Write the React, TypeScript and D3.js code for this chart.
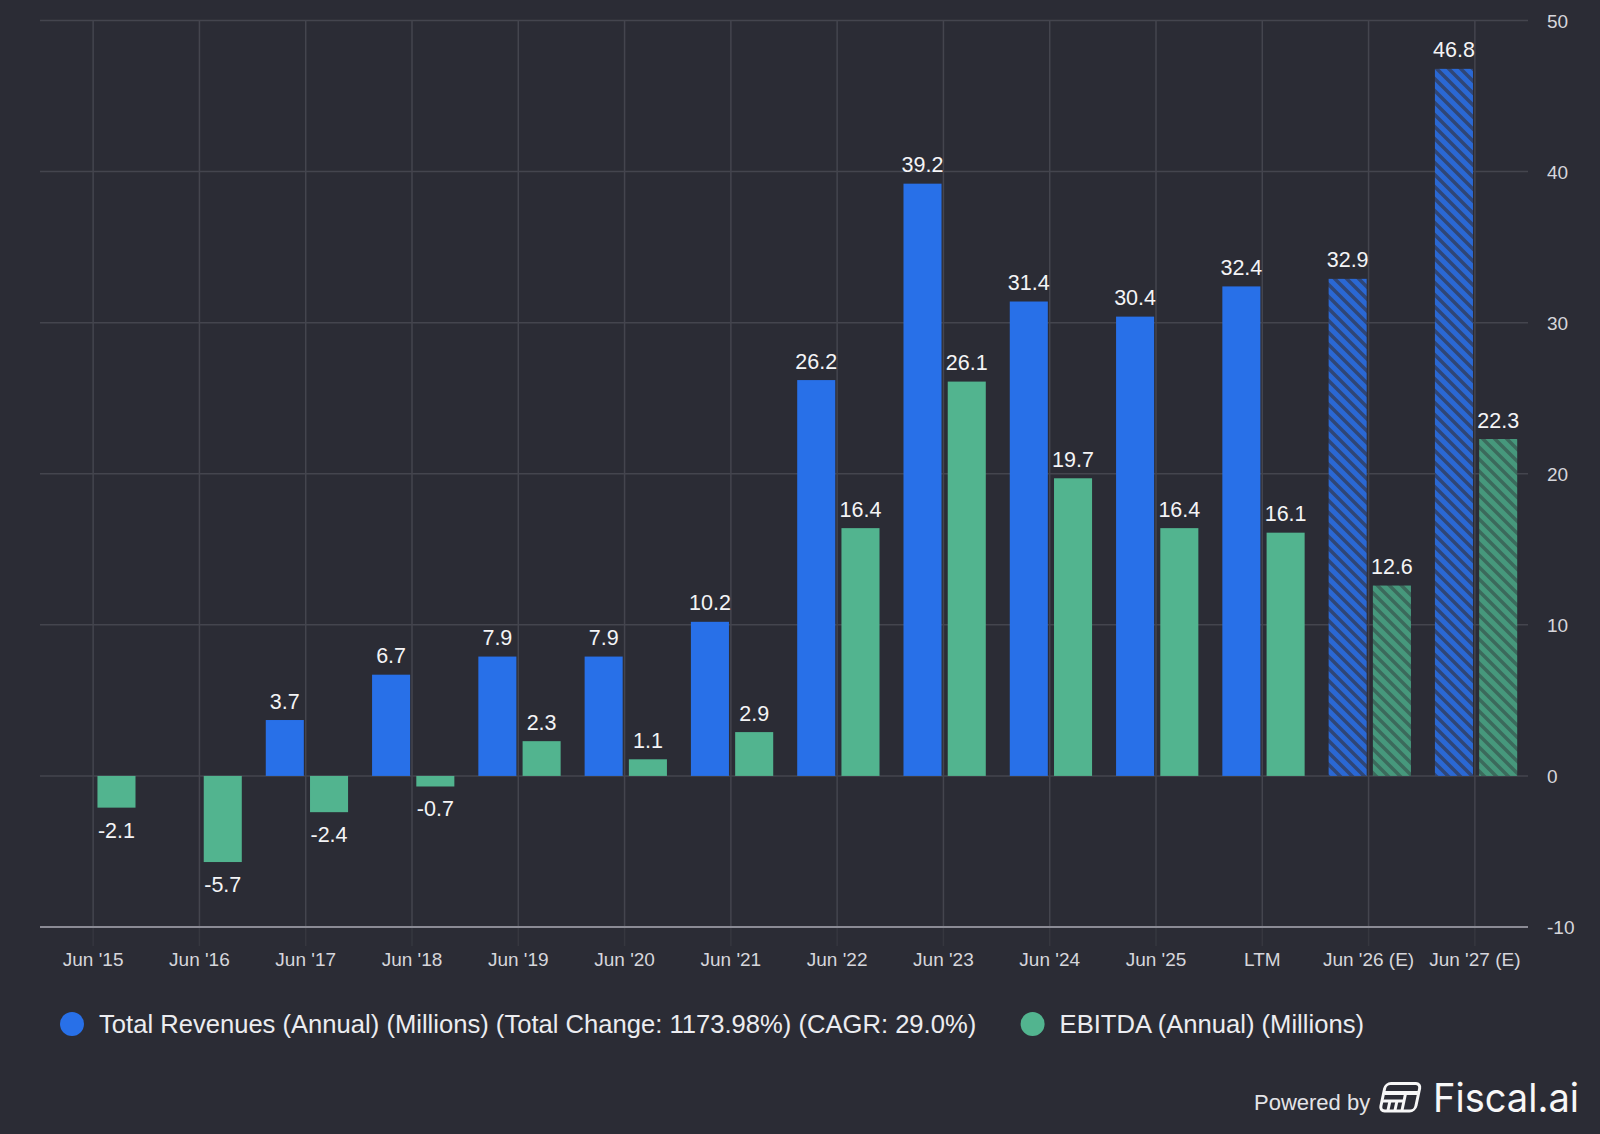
import React, { useEffect, useRef } from "react";
import * as d3 from "d3";

// Chart data
const categories = [
  "Jun '15", "Jun '16", "Jun '17", "Jun '18", "Jun '19", "Jun '20", "Jun '21",
  "Jun '22", "Jun '23", "Jun '24", "Jun '25", "LTM", "Jun '26 (E)", "Jun '27 (E)",
];
const revenues: (number | null)[] = [null, null, 3.7, 6.7, 7.9, 7.9, 10.2, 26.2, 39.2, 31.4, 30.4, 32.4, 32.9, 46.8];
const ebitda: number[] = [-2.1, -5.7, -2.4, -0.7, 2.3, 1.1, 2.9, 16.4, 26.1, 19.7, 16.4, 16.1, 12.6, 22.3];
const estimateCategories = ["Jun '26 (E)", "Jun '27 (E)"];
const yTicks = [-10, 0, 10, 20, 30, 40, 50];
const legendLabels = [
  "Total Revenues (Annual) (Millions) (Total Change: 1173.98%) (CAGR: 29.0%)",
  "EBITDA (Annual) (Millions)",
];

const W = 1600;
const H = 1134;
const BG = "#2b2c35";
const BLUE = "#2870e8";
const GREEN = "#52b48f";
const GRID = "#44454e";
const TEXT = "#d6d6dc";
const FONT = "'Liberation Sans', Arial, sans-serif";

export default function App() {
  const svgRef = useRef<SVGSVGElement>(null);

  useEffect(() => {
    document.body.style.margin = "0";
    document.body.style.background = BG;
    if (!svgRef.current) return;

    const svg = d3.select(svgRef.current);
    svg.selectAll("*").remove();

    const plot = { left: 40, right: 1528, top: 20.5, bottom: 927 };

    const x = d3.scaleBand<string>().domain(categories).range([plot.left, plot.right]).padding(0);
    const series = d3.scaleBand<string>()
      .domain(["rev", "ebitda"])
      .range([13.2, 95.5])
      .paddingInner(0.14)
      .paddingOuter(0);
    const y = d3.scaleLinear().domain([-10, 50]).range([plot.bottom, plot.top]);

    svg.append("rect").attr("width", W).attr("height", H).attr("fill", BG);

    // hatch patterns for estimate bars
    const defs = svg.append("defs");
    const hatch = (id: string, base: string, stripe: string) => {
      const s = 12;
      const p = defs.append("pattern")
        .attr("id", id)
        .attr("patternUnits", "userSpaceOnUse")
        .attr("width", s)
        .attr("height", s);
      p.append("rect").attr("width", s).attr("height", s).attr("fill", base);
      p.append("path")
        .attr("d", `M0,0L${s},${s}M-3,${s - 3}L3,${s + 3}M${s - 3},-3L${s + 3},3`)
        .attr("stroke", stripe)
        .attr("stroke-width", 3.5);
    };
    hatch("hatch-rev", "#2a68d4", "#2f4677");
    hatch("hatch-ebitda", "#46987c", "#3b6a5c");

    const center = (c: string) => (x(c) as number) + x.bandwidth() / 2;

    // horizontal gridlines
    svg.append("g")
      .selectAll("line")
      .data(yTicks.filter(t => t !== -10))
      .join("line")
      .attr("x1", plot.left)
      .attr("x2", plot.right)
      .attr("y1", d => y(d))
      .attr("y2", d => y(d))
      .attr("stroke", GRID)
      .attr("stroke-width", 1.5);

    // vertical gridlines + tick stubs
    const vg = svg.append("g");
    vg.selectAll("line.grid")
      .data(categories)
      .join("line")
      .attr("class", "grid")
      .attr("x1", d => center(d))
      .attr("x2", d => center(d))
      .attr("y1", plot.top)
      .attr("y2", plot.bottom)
      .attr("stroke", GRID)
      .attr("stroke-width", 1.5);
    vg.selectAll("line.tick")
      .data(categories)
      .join("line")
      .attr("class", "tick")
      .attr("x1", d => center(d))
      .attr("x2", d => center(d))
      .attr("y1", plot.bottom)
      .attr("y2", 946)
      .attr("stroke", "#36373f")
      .attr("stroke-width", 1.5);

    // bottom axis line
    svg.append("line")
      .attr("x1", plot.left)
      .attr("x2", plot.right)
      .attr("y1", y(-10))
      .attr("y2", y(-10))
      .attr("stroke", "#8b8b95")
      .attr("stroke-width", 2);

    const rows = categories.map((c, i) => ({
      cat: c,
      rev: revenues[i],
      ebitda: ebitda[i],
      est: estimateCategories.includes(c),
    }));

    const bars = svg.append("g");
    const labels = svg.append("g")
      .attr("font-family", FONT)
      .attr("font-size", "21.5px")
      .attr("fill", "#f4f4f6")
      .attr("text-anchor", "middle");

    (["rev", "ebitda"] as const).forEach(key => {
      const color = key === "rev" ? BLUE : GREEN;
      const data = rows.filter(r => r[key] !== null) as { cat: string; rev: number; ebitda: number; est: boolean }[];
      bars.selectAll(`rect.${key}`)
        .data(data)
        .join("rect")
        .attr("class", key)
        .attr("x", d => (x(d.cat) as number) + (series(key) as number))
        .attr("width", series.bandwidth())
        .attr("y", d => y(Math.max(0, d[key])))
        .attr("height", d => Math.abs(y(d[key]) - y(0)))
        .attr("fill", d => (d.est ? `url(#hatch-${key})` : color));

      labels.selectAll(`text.${key}`)
        .data(data)
        .join("text")
        .attr("class", key)
        .attr("x", d => (x(d.cat) as number) + (series(key) as number) + series.bandwidth() / 2)
        .attr("y", d => (d[key] >= 0 ? y(d[key]) - 11.5 : y(d[key]) + 30))
        .text(d => d[key].toFixed(1));
    });

    // x tick labels
    svg.append("g")
      .selectAll("text")
      .data(categories)
      .join("text")
      .attr("x", d => center(d))
      .attr("y", 966)
      .attr("text-anchor", "middle")
      .attr("font-family", FONT)
      .attr("font-size", "19px")
      .attr("fill", TEXT)
      .text(d => d);

    // right y-axis labels
    svg.append("g")
      .selectAll("text")
      .data(yTicks)
      .join("text")
      .attr("x", 1547)
      .attr("y", d => y(d) + 7)
      .attr("font-family", FONT)
      .attr("font-size", "19px")
      .attr("fill", TEXT)
      .text(d => String(d));

    // legend
    const legendX = [72, 1032.6];
    const legend = svg.append("g");
    legendLabels.forEach((label, i) => {
      legend.append("circle")
        .attr("cx", legendX[i])
        .attr("cy", 1024)
        .attr("r", 12)
        .attr("fill", i === 0 ? BLUE : GREEN);
      legend.append("text")
        .attr("x", legendX[i] + 27)
        .attr("y", 1033)
        .attr("font-family", FONT)
        .attr("font-size", "25.6px")
        .attr("fill", "#ececf0")
        .text(label);
    });

    // Powered by Fiscal.ai
    svg.append("text")
      .attr("x", 1254)
      .attr("y", 1110)
      .attr("font-family", FONT)
      .attr("font-size", "22px")
      .attr("fill", "#e4e4e8")
      .text("Powered by");

    const logo = svg.append("g")
      .attr("transform", "translate(1386,1082) skewX(-12)")
      .attr("fill", "none")
      .attr("stroke", "#f7f7f7")
      .attr("stroke-width", 3);
    logo.append("rect").attr("x", 0).attr("y", 1.5).attr("width", 35).attr("height", 27.5).attr("rx", 5);
    logo.append("line").attr("x1", 1).attr("x2", 34).attr("y1", 11).attr("y2", 11).attr("stroke-width", 4);
    logo.append("line").attr("x1", 1).attr("x2", 22).attr("y1", 19).attr("y2", 19);
    logo.append("line").attr("x1", 22).attr("x2", 22).attr("y1", 12).attr("y2", 28);
    logo.append("line").attr("x1", 8).attr("x2", 8).attr("y1", 19).attr("y2", 28);
    logo.append("line").attr("x1", 15).attr("x2", 15).attr("y1", 19).attr("y2", 28);

    svg.append("text")
      .attr("x", 1433)
      .attr("y", 1112)
      .attr("font-family", "Inter, 'Noto Sans', sans-serif")
      .attr("font-size", "40px")
      .attr("fill", "#f7f7f7")
      .attr("textLength", 146)
      .attr("lengthAdjust", "spacingAndGlyphs")
      .text("Fiscal.ai");
  }, []);

  return (
    <div style={{ position: "absolute", left: 0, top: 0 }}>
      <svg ref={svgRef} width={W} height={H} style={{ display: "block" }} />
    </div>
  );
}
